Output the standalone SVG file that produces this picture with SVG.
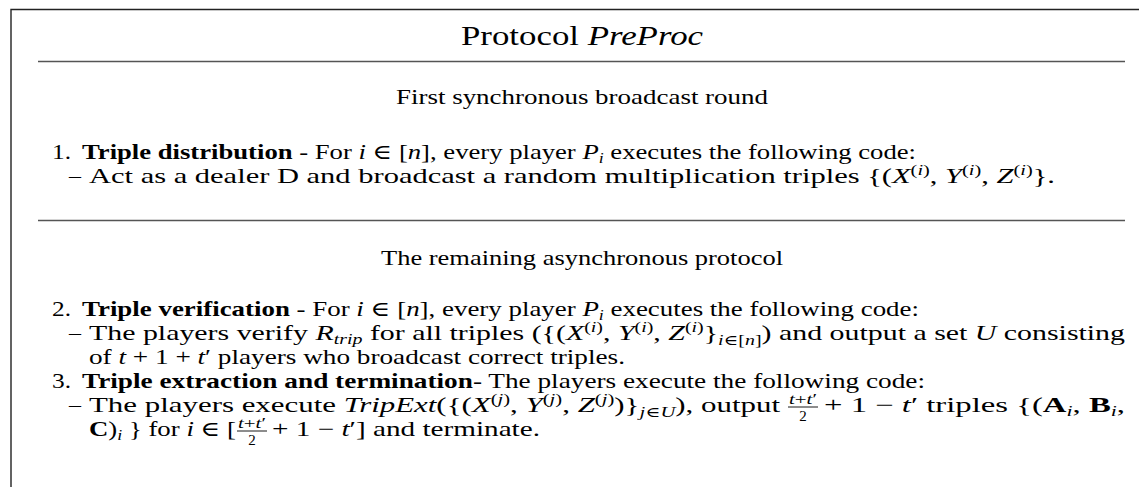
<svg xmlns="http://www.w3.org/2000/svg" width="1139" height="487" viewBox="0 0 1139 487">
<style>
.t{font-family:"Liberation Serif","DejaVu Serif",serif;font-size:21px;fill:#000}
.ti{font-size:28px}
.i{font-style:italic}
.b{font-weight:bold}
.s{font-size:14px}
.f{font-size:15px}
.rule{stroke:#555;stroke-width:1.6}
.frame{stroke:#222;stroke-width:1.4;fill:none}
.bar{stroke:#000;stroke-width:0.9}
</style>
<rect width="1139" height="487" fill="#fff"/>
<path class="frame" d="M11,487 V9.5 H1139"/>
<g id="title">
<text class="t ti" x="461" y="45" textLength="242" lengthAdjust="spacingAndGlyphs">Protocol <tspan class="i">PreProc</tspan></text>
<line class="rule" x1="38" y1="61.5" x2="1125" y2="61.5"/>
</g>
<g id="section1">
<text class="t" x="396" y="104" textLength="372" lengthAdjust="spacingAndGlyphs">First synchronous broadcast round</text>
<text class="t" x="52" y="159" textLength="19" lengthAdjust="spacingAndGlyphs">1.</text>
<text class="t" x="82" y="159" textLength="834" lengthAdjust="spacingAndGlyphs"><tspan class="b">Triple distribution</tspan> - For <tspan class="i">i</tspan> ∈ [<tspan class="i">n</tspan>], every player <tspan class="i">P</tspan><tspan class="s i" dy="4">i</tspan><tspan dy="-4"> executes the following code:</tspan></text>
<text class="t" x="69" y="183" textLength="12" lengthAdjust="spacingAndGlyphs">–</text>
<text class="t" x="89" y="183" textLength="966" lengthAdjust="spacingAndGlyphs">Act as a dealer D and broadcast a random multiplication triples {(<tspan class="i">X</tspan><tspan class="s" dy="-8">(<tspan class="i">i</tspan>)</tspan><tspan dy="8">, </tspan><tspan class="i">Y</tspan><tspan class="s" dy="-8">(<tspan class="i">i</tspan>)</tspan><tspan dy="8">, </tspan><tspan class="i">Z</tspan><tspan class="s" dy="-8">(<tspan class="i">i</tspan>)</tspan><tspan dy="8">}.</tspan></text>
<line class="rule" x1="38" y1="220.5" x2="1125" y2="220.5"/>
</g>
<g id="section2">
<text class="t" x="381" y="265" textLength="402" lengthAdjust="spacingAndGlyphs">The remaining asynchronous protocol</text>
<text class="t" x="52" y="316" textLength="19" lengthAdjust="spacingAndGlyphs">2.</text>
<text class="t" x="82" y="316" textLength="837" lengthAdjust="spacingAndGlyphs"><tspan class="b">Triple verification</tspan> - For <tspan class="i">i</tspan> ∈ [<tspan class="i">n</tspan>], every player <tspan class="i">P</tspan><tspan class="s i" dy="4">i</tspan><tspan dy="-4"> executes the following code:</tspan></text>
<text class="t" x="69" y="340" textLength="12" lengthAdjust="spacingAndGlyphs">–</text>
<text class="t" x="89" y="340" textLength="1036" lengthAdjust="spacingAndGlyphs">The players verify <tspan class="i">R</tspan><tspan class="s i" dy="4">trip</tspan><tspan dy="-4"> for all triples ({(</tspan><tspan class="i">X</tspan><tspan class="s" dy="-8">(<tspan class="i">i</tspan>)</tspan><tspan dy="8">, </tspan><tspan class="i">Y</tspan><tspan class="s" dy="-8">(<tspan class="i">i</tspan>)</tspan><tspan dy="8">, </tspan><tspan class="i">Z</tspan><tspan class="s" dy="-8">(<tspan class="i">i</tspan>)</tspan><tspan dy="8">}</tspan><tspan class="s" dy="5"><tspan class="i">i</tspan>∈[<tspan class="i">n</tspan>]</tspan><tspan dy="-5">) and output a set </tspan><tspan class="i">U</tspan> consisting</text>
<text class="t" x="89" y="364" textLength="536" lengthAdjust="spacingAndGlyphs">of <tspan class="i">t</tspan> + 1 + <tspan class="i">t</tspan>′ players who broadcast correct triples.</text>
<text class="t" x="52" y="388" textLength="19" lengthAdjust="spacingAndGlyphs">3.</text>
<text class="t" x="82" y="388" textLength="843" lengthAdjust="spacingAndGlyphs"><tspan class="b">Triple extraction and termination</tspan>- The players execute the following code:</text>
<text class="t" x="69" y="412" textLength="12" lengthAdjust="spacingAndGlyphs">–</text>
<text class="t" x="89" y="412" textLength="691" lengthAdjust="spacingAndGlyphs">The players execute <tspan class="i">TripExt</tspan>({(<tspan class="i">X</tspan><tspan class="s" dy="-8">(<tspan class="i">j</tspan>)</tspan><tspan dy="8">, </tspan><tspan class="i">Y</tspan><tspan class="s" dy="-8">(<tspan class="i">j</tspan>)</tspan><tspan dy="8">, </tspan><tspan class="i">Z</tspan><tspan class="s" dy="-8">(<tspan class="i">j</tspan>)</tspan><tspan dy="8">)}</tspan><tspan class="s" dy="5"><tspan class="i">j</tspan>∈<tspan class="i">U</tspan></tspan><tspan dy="-5">), output</tspan></text>
<text class="t f" x="789" y="404" textLength="28" lengthAdjust="spacingAndGlyphs"><tspan class="i">t</tspan>+<tspan class="i">t</tspan>′</text>
<line class="bar" x1="788" y1="407" x2="818" y2="407"/>
<text class="t f" x="803" y="421" text-anchor="middle">2</text>
<text class="t" x="824" y="412" textLength="301" lengthAdjust="spacingAndGlyphs">+ 1 − <tspan class="i">t</tspan>′ triples {(<tspan class="b">A</tspan><tspan class="s i" dy="4">i</tspan><tspan dy="-4">, </tspan><tspan class="b">B</tspan><tspan class="s i" dy="4">i</tspan><tspan dy="-4">,</tspan></text>
<text class="t" x="89" y="436" textLength="147" lengthAdjust="spacingAndGlyphs"><tspan class="b">C</tspan>)<tspan class="s i" dy="4">i</tspan><tspan dy="-4"> } for </tspan><tspan class="i">i</tspan> ∈ [</text>
<text class="t f" x="238" y="428" textLength="28" lengthAdjust="spacingAndGlyphs"><tspan class="i">t</tspan>+<tspan class="i">t</tspan>′</text>
<line class="bar" x1="237" y1="431" x2="267" y2="431"/>
<text class="t f" x="252" y="445" text-anchor="middle">2</text>
<text class="t" x="272" y="436" textLength="268" lengthAdjust="spacingAndGlyphs">+ 1 − <tspan class="i">t</tspan>′] and terminate.</text>
</g>
</svg>
